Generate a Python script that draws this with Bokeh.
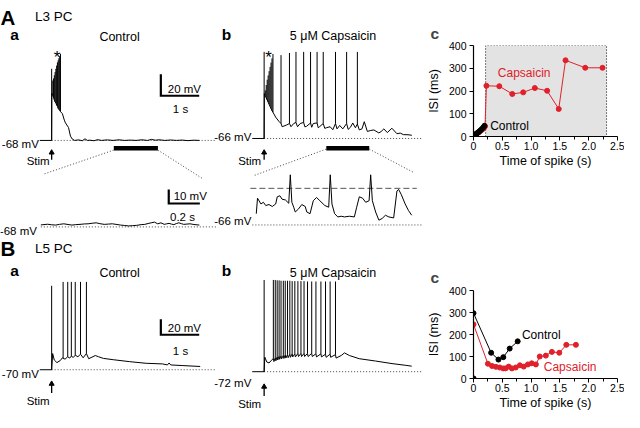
from bokeh.plotting import figure
from bokeh.layouts import row, column
from bokeh.models import Range1d, FixedTicker, Label
from bokeh.embed import file_html
from bokeh.resources import INLINE
from bokeh.core.properties import value

FONT = "Liberation Sans"
RED = "#e0202a"
GRAY = "#e3e3e3"

# ======================= DATA =======================
# --- A a : L3 PC, control (time from stim in s, membrane potential in mV)
aa_t = [-0.31, 0.0, 0.005, 0.03, 0.05, 0.07, 0.09, 0.11, 0.13, 0.15, 0.17, 0.19, 0.21, 0.23,
        0.28, 0.33, 0.36, 0.44, 0.49, 0.54, 0.6, 0.7, 0.8, 0.87, 0.93, 1.0, 1.1, 1.2, 1.3, 1.45,
        1.6, 1.75, 1.9, 2.05, 2.2, 2.35, 2.5, 2.6, 2.7, 2.8, 2.95, 3.1, 3.25, 3.4, 3.55, 3.7, 3.85]
aa_v = [-68, -68, -24, -26, -28, -30, -32, -33, -35, -36, -38, -39, -40, -41,
        -43, -49, -51.6, -56, -64, -66.8, -68, -67.5, -68.3, -66.5, -68, -67.8, -68.3, -67.3, -68, -67.5,
        -68, -67.4, -68, -67.7, -68, -67.4, -68, -67, -67.8, -67.4, -68, -67.6, -68, -67.7, -68.2, -67.8, -68]
aa_spk_t = [0, 0.03, 0.05, 0.07, 0.09, 0.11, 0.13, 0.15, 0.17, 0.19, 0.21, 0.23]
aa_spk_base = [-68, -26, -28, -30, -32, -33, -35, -36, -38, -39, -40, -41]
aa_spk_peak = [-1, -12, -10, -7, -4, -1, 2, 5, 7, 9, 11, 13]
aa_vrest = -68
aa_bar = [1.62, 2.77]
# inset (time from start of expanded window, s)
aa_in_t = [0, 0.044, 0.07, 0.096, 0.12, 0.148, 0.175, 0.2, 0.225, 0.252, 0.28, 0.304, 0.33, 0.356, 0.38,
           0.408, 0.435, 0.46, 0.49, 0.513, 0.54, 0.564, 0.59, 0.617, 0.645, 0.669, 0.69, 0.71, 0.731,
           0.752, 0.773, 0.794, 0.81, 0.825, 0.84, 0.856, 0.872, 0.888, 0.905, 0.919, 0.94, 0.96, 0.985, 1.02]
aa_in_v = [-66.6, -66.1, -66.5, -66.7, -66.2, -65.8, -66.3, -66.7, -66.4, -66.2, -65.9, -65.8, -65.4, -65.1,
           -65.7, -66.2, -66.0, -65.8, -66.3, -66.7, -67.0, -67.3, -67.1, -66.9, -66.4, -66.2, -65.6, -65.1,
           -64.6, -65.8, -65.1, -66.2, -65.8, -65.5, -66.0, -66.4, -65.6, -65.1, -65.7, -66.2, -66.0, -65.8,
           -66.3, -66.7]

# --- A b : L3 PC, 5 uM capsaicin
ab_t = [-0.31, 0.0, 0.005, 0.03, 0.055, 0.08, 0.105, 0.13, 0.155, 0.18,
        0.205, 0.23, 0.3, 0.385, 0.44, 0.47, 0.59, 0.66, 0.7, 0.77,
        0.83, 0.87, 0.94, 1.03, 1.06, 1.10, 1.21, 1.24, 1.28, 1.38,
        1.41, 1.45, 1.54, 1.58, 1.62, 1.72, 1.79, 1.86, 1.9, 1.97,
        2.05, 2.15, 2.19, 2.25, 2.31, 2.38, 2.43, 2.48, 2.55, 2.61,
        2.69, 2.78, 2.86, 2.99, 3.05, 3.12, 3.21, 3.33, 3.46, 3.55,
        3.63, 3.75, 3.85]
ab_v = [-66, -66, -24, -26, -28, -30, -32, -34, -36, -38,
        -40, -41.5, -46, -50, -52, -55, -53.3, -52, -55, -52,
        -51, -55, -52, -51, -55, -54.8, -51.5, -55.5, -52, -51.5,
        -56, -54.8, -52, -56.5, -56, -55, -57.8, -52, -57, -53.8,
        -57, -52, -57.5, -55.5, -51.5, -56, -52.5, -58, -57, -50.3,
        -59.4, -58.5, -58, -60.8, -59.5, -57, -60.5, -56.4, -61.5, -61,
        -62.4, -62.5, -63]
ab_spk_t = [0, 0.03, 0.055, 0.08, 0.105, 0.13, 0.155, 0.18, 0.205, 0.23,
            0.44, 0.66, 0.83, 1.03, 1.21, 1.38, 1.54, 1.86, 2.15, 2.43]
ab_spk_base = [-66, -26, -28, -30, -32, -34, -36, -38, -40, -41.5,
               -52, -52, -51, -51, -51.5, -51.5, -52, -52, -52, -52.5]
ab_spk_peak = [15, -21, -16, -11, -7, -3, 1, 5, 9, 13,
               12, 14, 15, 15, 15, 15, 15, 15, 15, 15]
ab_vrest = -66
ab_bar = [1.62, 2.74]
ab_in_t = [0, 0.008, 0.03, 0.046, 0.061, 0.082, 0.103, 0.125, 0.135, 0.152,
           0.166, 0.188, 0.209, 0.219, 0.229, 0.241, 0.251, 0.272, 0.293, 0.315,
           0.325, 0.346, 0.367, 0.388, 0.409, 0.441, 0.466, 0.476, 0.487, 0.504,
           0.525, 0.546, 0.568, 0.599, 0.631, 0.646, 0.663, 0.684, 0.704, 0.726,
           0.736, 0.747, 0.768, 0.789, 0.81, 0.831, 0.853, 0.884, 0.905, 0.916,
           0.932, 0.958, 0.979, 1.0]
ab_in_v = [-58.0, -47.0, -51.1, -49.9, -52.2, -51.5, -52.9, -51.1, -46.0, -45.3,
           -47.7, -48.3, -50.6, -30.4, -49.9, -53.4, -56.8, -54.6, -51.5, -52.9,
           -56.8, -58.0, -48.8, -46.5, -48.8, -52.2, -53.4, -30.4, -51.1, -58.0,
           -60.3, -59.8, -60.3, -59.8, -60.3, -53.4, -46.0, -47.0, -49.9, -48.8,
           -30.4, -48.8, -56.8, -62.6, -61.4, -59.1, -60.3, -61.0, -41.9, -40.8,
           -44.2, -51.1, -55.7, -59.1]
ab_in_thresh = -40

# --- B a : L5 PC, control
ba_t = [-0.31, 0.0, 0.026, 0.068, 0.137, 0.222, 0.282, 0.299, 0.35, 0.419,
        0.47, 0.513, 0.564, 0.615, 0.684, 0.752, 0.821, 0.906, 0.966, 1.051,
        1.137, 1.222, 1.35, 1.607, 2.034, 2.462, 2.889, 3.017, 3.06, 3.103,
        3.402, 3.872]
ba_v = [-70, -70, -49.2, -57.5, -60.8, -58.3, -54.6, -55.4, -56.3, -53.3,
        -55.0, -52.5, -54.2, -51.3, -53.3, -50.0, -54.6, -49.2, -55.8, -53.8,
        -51.7, -53.3, -55.4, -57.1, -59.6, -61.7, -62.5, -63.8, -61.3, -63.8,
        -64.6, -65.8]
ba_spk_t = [0, 0.299, 0.419, 0.513, 0.615, 0.752, 0.906]
ba_spk_base = [-70, -55.4, -53.3, -52.5, -51.3, -50.0, -49.2]
ba_spk_peak = [38, 43, 43, 43, 43, 43, 43]
ba_vrest = -70

# --- B b : L5 PC, 5 uM capsaicin
bb_t = [-0.31, 0.0, 0.017, 0.068, 0.128, 0.188,
        0.24, 0.255, 0.29, 0.305, 0.34, 0.355, 0.39, 0.405, 0.44, 0.455,
        0.50, 0.515, 0.55, 0.565, 0.61, 0.625, 0.67, 0.685, 0.73, 0.745,
        0.80, 0.815, 0.88, 0.895, 0.96, 0.975, 1.04, 1.055, 1.13, 1.145,
        1.24, 1.255, 1.35, 1.365, 1.48, 1.495, 1.60, 1.615, 1.72, 1.735,
        1.86, 1.875,
        2.009, 2.094, 2.222, 2.479, 2.906, 3.333, 3.675, 3.846]
bb_v = [-72, -72, -53.3, -59.5, -60.8, -57.4,
        -55, -59, -54, -58, -53, -57, -52, -56, -51.5, -55.5,
        -51, -55, -50.5, -54.5, -50, -54, -49.5, -53.5, -49, -53,
        -49, -53, -48.5, -52.5, -48.5, -52.5, -48.5, -52.5, -48.5, -52.5,
        -48.5, -52.5, -49, -53, -49, -53, -49.5, -53.5, -49.5, -53.5,
        -50, -54.5,
        -51.2, -47.8, -51.2, -55.3, -58.3, -61.6, -63.7, -64.9]
bb_spk_t = [0, 0.24, 0.29, 0.34, 0.39, 0.44, 0.50, 0.55, 0.61, 0.67, 0.73,
            0.80, 0.88, 0.96, 1.04, 1.13, 1.24, 1.35, 1.48, 1.60, 1.72, 1.86]
bb_spk_base = [-72, -55, -54, -53, -52, -51.5, -51, -50.5, -50, -49.5, -49,
               -49, -48.5, -48.5, -48.5, -48.5, -48.5, -49, -49, -49.5, -49.5, -50]
bb_spk_peak = [46, 46, 46, 45.5, 45.5, 45, 45, 45, 45, 45, 44.5,
               44.5, 44.5, 44.5, 44.5, 44, 44, 44, 44, 44, 44, 44]
bb_vrest = -72

# --- ISI plots (time of spike s, ISI ms)
ac_ctrl_t = [0, 0.015, 0.03, 0.045, 0.06, 0.08, 0.1, 0.12, 0.145, 0.17, 0.19]
ac_ctrl_isi = [0, 5, 8, 11, 14, 18, 22, 27, 33, 40, 47]
ac_caps_t = [0, 0.02, 0.04, 0.06, 0.09, 0.12, 0.15, 0.18, 0.2, 0.224, 0.448, 0.673, 0.863,
             1.065, 1.278, 1.48, 1.598, 1.94, 2.24]
ac_caps_isi = [0, 5, 9, 13, 18, 24, 30, 37, 45, 223, 221, 187, 194, 213, 201, 121, 335, 302, 302]
ac_shade = [0.21, 2.31]

bc_ctrl_t = [0, 0, 0.306, 0.433, 0.517, 0.628, 0.767]
bc_ctrl_isi = [0, 297, 117, 86, 97, 136, 169]
bc_caps_t = [0, 0, 0.25, 0.322, 0.389, 0.456, 0.517, 0.556, 0.611, 0.667, 0.733, 0.806, 0.872,
             0.944, 1.011, 1.083, 1.15, 1.256, 1.361, 1.489, 1.611, 1.778]
bc_caps_isi = [0, 246, 67, 57, 53, 50, 46, 46, 54, 46, 50, 60, 54, 64, 69, 64, 100, 104, 121,
               117, 153, 153]

x_ticks = [0, 0.5, 1.0, 1.5, 2.0, 2.5]
x_labels = ["0", "0.5", "1.0", "1.5", "2.0", "2.5"]
x_minor = [0.25, 0.75, 1.25, 1.75, 2.25]
y_ticks = [0, 100, 200, 300, 400]

# scale bars
sb_mv, sb_s = 20, 1
sb_in_mv, sb_in_s = 10, 0.2

# ======================= LAYOUT =======================
# the trace panels live on a canvas measured in reference-picture pixels
X0, X1, Y0, Y1 = 2, 432, 2, 426
left = figure(width=423, height=412, x_range=Range1d(X0, X1), y_range=Range1d(Y1, Y0),
              x_axis_location=None, y_axis_location=None, min_border=0, title=None,
              toolbar_location=None, output_backend="svg")
left.outline_line_color = None
left.grid.grid_line_color = None


def panel(name, xpx, kx, ypx, ky, v0):
    """A time/voltage scale whose t=0 sits at xpx and v0 at ypx (kx px/s, ky px/mV)."""
    left.extra_x_ranges[name] = Range1d((X0 - xpx) / kx, (X1 - xpx) / kx)
    left.extra_y_ranges[name] = Range1d(v0 - (Y1 - ypx) / ky, v0 + (ypx - Y0) / ky)
    return dict(x_range_name=name, y_range_name=name)


KT, KVA, KVB = 39.0, 1.1, 0.8
KTI, KVI = 158.0, 1.45
P_aa = panel("aa", 54, KT, 146, KVA, aa_vrest)
P_ab = panel("ab", 270, KT, 144, KVA, ab_vrest)
P_aai = panel("aai", 43, KTI, 235, KVI, aa_vrest)
P_abi = panel("abi", 262, KTI, 233, KVI, ab_vrest)
P_ba = panel("ba", 54, KT, 382, KVB, ba_vrest)
P_bb = panel("bb", 270, KT, 384, KVB, bb_vrest)

DOT = dict(line_color="#444444", line_width=1, line_dash="1 2")
TR = dict(line_color="black", line_width=1)

def trace(P, t, v, st=None, sb=None, sp=None):
    left.line(t, v, **TR, **P)
    if st is not None:
        left.segment(x0=st, y0=sb, x1=st, y1=sp, **TR, **P)

# dotted resting-potential lines
left.line([0, 4.3], [aa_vrest] * 2, **DOT, **P_aa)
left.line([0, 4.15], [ab_vrest] * 2, **DOT, **P_ab)
left.line([0, 1.13], [aa_vrest] * 2, **DOT, **P_aai)
left.line([-0.025, 1.076], [ab_vrest] * 2, **DOT, **P_abi)
left.line([-0.038, 1.033], [ab_in_thresh] * 2, line_color="#555555", line_width=1,
          line_dash="6 3", **P_abi)
left.line([0, 4.3], [ba_vrest] * 2, **DOT, **P_ba)
left.line([0, 4.15], [bb_vrest] * 2, **DOT, **P_bb)

trace(P_aa, aa_t, aa_v, aa_spk_t, aa_spk_base, aa_spk_peak)
trace(P_ab, ab_t, ab_v, ab_spk_t, ab_spk_base, ab_spk_peak)
trace(P_aai, aa_in_t, aa_in_v)
trace(P_abi, ab_in_t, ab_in_v)
trace(P_ba, ba_t, ba_v, ba_spk_t, ba_spk_base, ba_spk_peak)
trace(P_bb, bb_t, bb_v, bb_spk_t, bb_spk_base, bb_spk_peak)

# expanded-window bars
left.line(aa_bar, [-75.3] * 2, line_color="black", line_width=4.5, **P_aa)
left.line(ab_bar, [-75.1] * 2, line_color="black", line_width=4.5, **P_ab)

# connectors (reference-pixel canvas)
left.segment(x0=[117, 162, 333, 377], y0=[156, 156, 155, 155],
             x1=[45, 207, 260, 422], y1=[181, 185, 182, 179], **DOT)

# scale bars
def scalebar(P, t0, v0, dv, dt, lw=2.2):
    left.line([t0, t0, t0 + dt], [v0 + dv, v0, v0], line_color="black", line_width=lw,
              line_join="miter", **P)

scalebar(P_aa, 2.846, -26.2, sb_mv, sb_s)
scalebar(P_aai, 0.823, -51.4, sb_in_mv, sb_in_s)
scalebar(P_ba, 2.846, -25.0, sb_mv, sb_s)

# stim arrows
left.segment(x0=[54, 270, 54, 270], y0=[166, 166, 406, 409],
             x1=[54, 270, 54, 270], y1=[159, 159, 397, 400], line_color="black", line_width=1.3)
left.scatter(x=[54, 270, 54, 270], y=[158.5, 158.5, 396.5, 399.5], marker="triangle",
             size=5, color="black")


def txt(x, y, s, size, align="left", bold=False, color="black"):
    left.text(x=[x], y=[y], text=[s], text_font=value(FONT), text_font_size=f"{size}px",
              text_align=align, text_baseline="alphabetic",
              text_font_style="bold" if bold else "normal", text_color=color)

txt(2, 19.5, "A", 20.5, bold=True)
txt(37, 18, "L3 PC", 13.5)
txt(12, 37, "a", 15.5, bold=True)
txt(227, 37, "b", 15.5, bold=True)
txt(123, 40, "Control", 12.5, "center")
txt(340, 39, "5 μM Capsaicin", 12.5, "center")
txt(59.5, 61, "*", 17, "center")
txt(274.5, 61, "*", 17, "center")
txt(41, 150, "-68 mV", 11.5, "right")
txt(257, 142, "-66 mV", 11.5, "right")
txt(52, 167, "Stim", 11.5, "right")
txt(267, 167, "Stim", 11.5, "right")
txt(172, 93, "20 mV", 11.5)
txt(185, 114, "1 s", 11.5, "center")
txt(39, 239, "-68 mV", 11.5, "right")
txt(257, 229, "-66 mV", 11.5, "right")
txt(178, 203, "10 mV", 11.5)
txt(187, 225, "0.2 s", 11.5, "center")

txt(2, 257, "B", 20.5, bold=True)
txt(37, 257, "L5 PC", 13.5)
txt(12, 280, "a", 15.5, bold=True)
txt(227, 280, "b", 15.5, bold=True)
txt(123, 282, "Control", 12.5, "center")
txt(340, 282, "5 μM Capsaicin", 12.5, "center")
txt(41, 386, "-70 mV", 11.5, "right")
txt(52, 414, "Stim", 11.5, "right")
txt(257, 396, "-72 mV", 11.5, "right")
txt(267, 417, "Stim", 11.5, "right")
txt(172, 339, "20 mV", 11.5)
txt(185, 363, "1 s", 11.5, "center")


# ======================= ISI PLOTS =======================
def isi_fig(h, top, bottom, title_standoff):
    p = figure(width=201, height=h, x_range=Range1d(0, 2.5), y_range=Range1d(0, 400),
               min_border_left=48, min_border_right=7, min_border_top=top,
               min_border_bottom=bottom, toolbar_location=None, output_backend="svg",
               title="c")
    p.title.align = "left"
    p.title.offset = -43
    p.title.standoff = title_standoff
    p.title.text_font = FONT
    p.title.text_font_size = "15.5px"
    p.title.text_font_style = "bold"
    p.outline_line_color = None
    p.grid.grid_line_color = None
    p.xaxis.ticker = FixedTicker(ticks=x_ticks, minor_ticks=x_minor)
    p.xaxis.major_label_overrides = {t: l for t, l in zip(x_ticks, x_labels)}
    p.yaxis.ticker = FixedTicker(ticks=y_ticks)
    p.xaxis.axis_label = "Time of spike (s)"
    p.yaxis.axis_label = "ISI (ms)"
    for ax in (p.xaxis[0], p.yaxis[0]):
        ax.axis_line_color = "black"
        ax.axis_line_width = 1.2
        ax.major_tick_line_color = "black"
        ax.minor_tick_line_color = "black"
        ax.major_tick_in = 0
        ax.major_tick_out = 4
        ax.minor_tick_in = 0
        ax.minor_tick_out = 3
        ax.major_label_text_font = FONT
        ax.major_label_text_font_size = "10.5px"
        ax.major_label_text_color = "black"
        ax.axis_label_text_font = FONT
        ax.axis_label_text_font_size = "12.5px"
        ax.axis_label_text_font_style = "normal"
        ax.axis_label_text_color = "black"
        ax.major_label_standoff = 1
        ax.axis_label_standoff = 1
    p.yaxis.major_label_standoff = 3
    p.yaxis.axis_label_standoff = 5
    return p


def lab(p, x, y, s, size, color="black", align="left"):
    p.add_layout(Label(x=x, y=y, text=s, text_font=FONT, text_font_size=f"{size}px",
                       text_color=color, text_align=align, text_baseline="middle"))

ac = isi_fig(227, 45, 91, 8)
ac.quad(left=ac_shade[0], right=ac_shade[1], bottom=0, top=400, fill_color=GRAY, line_color=None)
ac.line([ac_shade[0], ac_shade[0], ac_shade[1], ac_shade[1]], [0, 400, 400, 0],
        line_color="black", line_width=1, line_dash="1 2")
ac.line(ac_caps_t, ac_caps_isi, line_color=RED, line_width=1)
ac.scatter(ac_caps_t, ac_caps_isi, size=5, color=RED)
ac.line(ac_ctrl_t, ac_ctrl_isi, line_color="black", line_width=1)
ac.scatter(ac_ctrl_t, ac_ctrl_isi, size=5, color="black")
lab(ac, 0.88, 281, "Capsaicin", 12, RED, "center")
lab(ac, 0.29, 47, "Control", 12)

bc = isi_fig(185, 63, 32, 10)
bc.line(bc_caps_t, bc_caps_isi, line_color=RED, line_width=1)
bc.scatter(bc_caps_t, bc_caps_isi, size=5, color=RED)
bc.line(bc_ctrl_t, bc_ctrl_isi, line_color="black", line_width=1)
bc.scatter(bc_ctrl_t, bc_ctrl_isi, size=5, color="black")
lab(bc, 0.84, 200, "Control", 12)
lab(bc, 1.22, 52, "Capsaicin", 12, RED)

layout = row(left, column(ac, bc, spacing=0), spacing=0)

open("out.html", "w").write(file_html(layout, INLINE))
